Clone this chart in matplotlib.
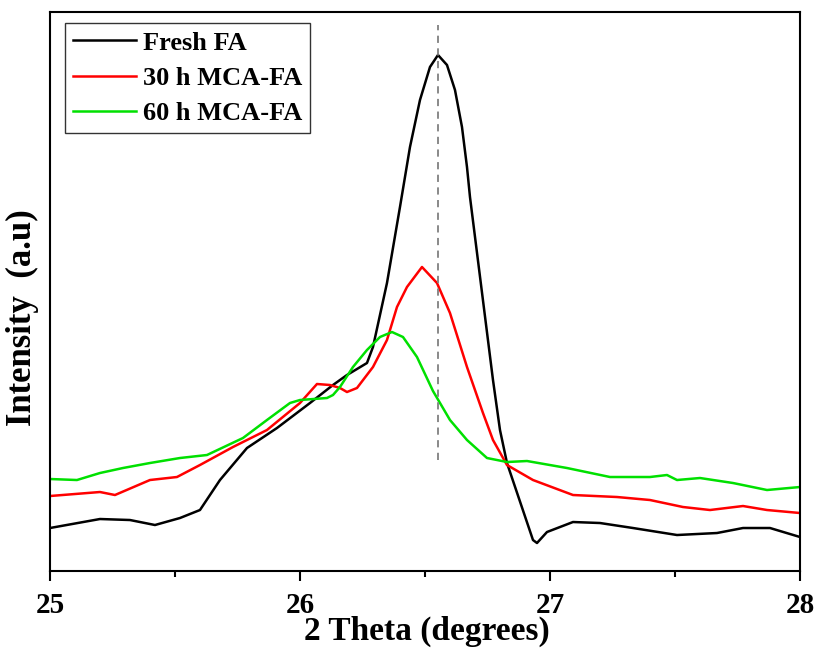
import matplotlib.pyplot as plt

plt.rcParams['font.family'] = ['Liberation Serif', 'DejaVu Serif']
plt.rcParams['font.weight'] = 'bold'

# values (arbitrary intensity units)
theta_fresh = [25.0, 25.2, 25.32, 25.42, 25.52, 25.6, 25.68, 25.788, 25.908, 26.04, 26.132, 26.188,
               26.268, 26.292, 26.348, 26.4, 26.44, 26.48, 26.52, 26.552, 26.588, 26.62, 26.648,
               26.668, 26.68, 26.772, 26.8, 26.828, 26.932, 26.948, 26.988, 27.092, 27.2, 27.332,
               27.508, 27.668, 27.772, 27.88, 28.0]
int_fresh = [43, 52, 51, 46, 53, 61, 91, 123, 143, 168, 186, 196, 208, 224, 288, 364, 424, 471,
             504, 516, 506, 481, 444, 404, 374, 191, 141, 108, 31, 28, 39, 49, 48, 43, 36, 38, 43,
             43, 34]

theta_30h = [25.0, 25.2, 25.26, 25.4, 25.508, 25.6, 25.732, 25.868, 26.0, 26.068, 26.12, 26.16,
             26.188, 26.228, 26.292, 26.348, 26.388, 26.428, 26.488, 26.548, 26.6, 26.668, 26.732,
             26.772, 26.828, 26.932, 27.092, 27.268, 27.4, 27.532, 27.64, 27.772, 27.868, 28.0]
int_30h = [75, 79, 76, 91, 94, 106, 124, 141, 168, 187, 186, 183, 179, 183, 204, 231, 264, 284,
           304, 288, 258, 204, 158, 131, 106, 91, 76, 74, 71, 64, 61, 65, 61, 58]

theta_60h = [25.0, 25.108, 25.2, 25.292, 25.4, 25.52, 25.628, 25.772, 25.868, 25.96, 26.0, 26.108,
             26.132, 26.16, 26.212, 26.268, 26.32, 26.368, 26.412, 26.468, 26.532, 26.6, 26.668,
             26.748, 26.828, 26.908, 27.068, 27.24, 27.4, 27.468, 27.508, 27.6, 27.732, 27.868,
             28.0]
int_60h = [92, 91, 98, 103, 108, 113, 116, 133, 151, 168, 171, 173, 176, 184, 204, 221, 234, 239,
           234, 214, 180, 151, 131, 113, 109, 110, 103, 94, 94, 96, 91, 93, 88, 81, 84]

peak_pos = 26.552

fig = plt.figure(figsize=(8.15, 6.48), dpi=100)
ax = fig.add_axes([0.0613, 0.1188, 0.9203, 0.8627])

ax.plot(theta_fresh, int_fresh, color='black', lw=1.8, label='Fresh FA')
ax.plot(theta_30h, int_30h, color='#ff0000', lw=1.8, label='30 h MCA-FA')
ax.plot(theta_60h, int_60h, color='#00e000', lw=1.8, label='60 h MCA-FA')
ax.plot([peak_pos, peak_pos], [111, 546], color='gray', lw=1.3, ls=(0, (4, 3)))

ax.set_xlim(25, 28)
ax.set_ylim(0, 559)
ax.set_xticks([25, 26, 27, 28])
ax.set_xticks([25.5, 26.5, 27.5], minor=True)
ax.set_yticks([])
ax.tick_params(axis='x', which='major', direction='out', length=7, width=1.5, labelsize=21, pad=8)
ax.tick_params(axis='x', which='minor', direction='out', length=4, width=1.5)
for lab in ax.get_xticklabels():
    lab.set_fontweight('bold')
for sp in ax.spines.values():
    sp.set_linewidth(1.5)

ax.set_xlabel('2 Theta (degrees)', fontsize=24, fontweight='bold')
ax.xaxis.set_label_coords(0.503, -0.08)
ax.set_ylabel('Intensity  (a.u)', fontsize=25, fontweight='bold')
ax.yaxis.set_label_coords(-0.014, 0.453)

leg = ax.legend(loc='upper left', bbox_to_anchor=(0.02, 0.98), borderaxespad=0, fontsize=19,
                frameon=True, fancybox=False, edgecolor='black', handlelength=2.4,
                handletextpad=0.25, borderpad=0.3, labelspacing=0.45)
leg.get_frame().set_linewidth(1.0)
for t in leg.get_texts():
    t.set_fontweight('bold')

fig.savefig('out.png', dpi=100)
